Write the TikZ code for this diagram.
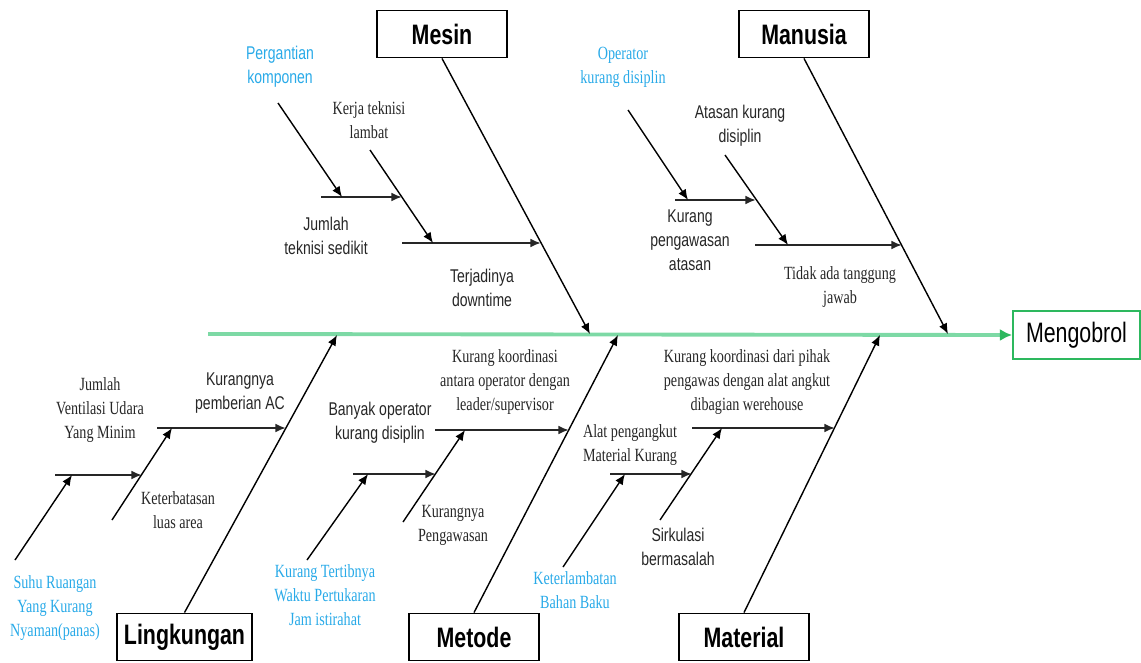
\documentclass[tikz,border=0pt]{standalone}
\usepackage{fontspec}
\setmainfont{Liberation Serif}[FakeStretch=0.76]
\newfontfamily\arialn{Liberation Sans}[FakeStretch=0.76]
\usetikzlibrary{arrows.meta}

\definecolor{biru}{RGB}{41,170,232}
\definecolor{hijaumuda}{RGB}{125,217,165}
\definecolor{hijau}{RGB}{45,184,94}
\definecolor{abu}{RGB}{38,38,38}

\begin{document}
\begin{tikzpicture}[x=0.02cm, y=-0.02cm, >={Latex[length=6pt, width=5pt]},
	kotak/.style={draw, line width=1.1pt, minimum width=2.6cm, minimum height=0.94cm, inner sep=0pt, font=\arialn\bfseries\fontsize{16}{19}\selectfont},
	sans/.style={align=center, text=abu, font=\arialn\fontsize{10.5}{13.6}\selectfont},
	serif/.style={align=center, text=abu, font=\fontsize{10.6}{13.6}\selectfont},
	tulang/.style={->, line width=0.8pt},
	cabang/.style={->, line width=1.3pt, draw=abu},
	ranting/.style={->, line width=0.8pt}]
	
		\useasboundingbox (0, 0) rectangle (1141, 662);
		
		% Kepala dan tulang utama
		
		\draw node[draw=hijau, line width=1.1pt, minimum width=2.54cm, minimum height=0.96cm, inner sep=0pt, font=\arialn\fontsize{16}{19}\selectfont] (akibat) at (1076.5, 335.) {Mengobrol} ;
		
		\coordinate (ekor) at (208., 334.);
		
		\draw[->, line width=2.2pt, draw=hijaumuda, >={Latex[length=7pt, width=7pt, color=hijau]}] (ekor) -- (akibat.west);
		
		% Mesin
		
		\draw node[kotak] (mesin) at (442., 34.) {Mesin} ;
		
		\coordinate (m0) at (590., 334.);
		\coordinate (m1a) at (402., 243.);
		\coordinate (m1b) at (541., 243.);
		\coordinate (m2a) at (321., 197.);
		\coordinate (m2b) at (402., 197.);
		\coordinate (m3a) at (370., 150.);
		\coordinate (m3b) at (433., 243.);
		\coordinate (m4a) at (278., 103.);
		\coordinate (m4b) at (342., 197.);
		
		\draw[tulang] (mesin.south) -- (m0);
		
		\draw[cabang] (m1a) -- (m1b);
		
		\draw[cabang] (m2a) -- (m2b);
		
		\draw[ranting] (m3a) -- (m3b);
		
		\draw[ranting] (m4a) -- (m4b);
		
		\draw node[sans, text=biru] (t1) at (280., 67.) {Pergantian\\komponen} ;
		
		\draw node[serif] (t2) at (369., 120.) {Kerja teknisi\\lambat} ;
		
		\draw node[sans] (t3) at (326., 236.) {Jumlah\\teknisi sedikit} ;
		
		\draw node[sans] (t4) at (482., 288.) {Terjadinya\\downtime} ;
		
		% Manusia
		
		\draw node[kotak] (manusia) at (804., 34.) {Manusia} ;
		
		\coordinate (n0) at (948., 334.);
		\coordinate (n1a) at (755., 245.);
		\coordinate (n1b) at (902., 245.);
		\coordinate (n2a) at (675., 200.);
		\coordinate (n2b) at (756., 200.);
		\coordinate (n3a) at (725., 155.);
		\coordinate (n3b) at (788., 245.);
		\coordinate (n4a) at (628., 110.);
		\coordinate (n4b) at (688., 200.);
		
		\draw[tulang] (manusia.south) -- (n0);
		
		\draw[cabang] (n1a) -- (n1b);
		
		\draw[cabang] (n2a) -- (n2b);
		
		\draw[ranting] (n3a) -- (n3b);
		
		\draw[ranting] (n4a) -- (n4b);
		
		\draw node[serif, text=biru] (t5) at (623., 67.) {Operator\\kurang disiplin} ;
		
		\draw node[sans] (t6) at (740., 126.) {Atasan kurang\\disiplin} ;
		
		\draw node[sans] (t7) at (690., 240.) {Kurang\\pengawasan\\atasan} ;
		
		\draw node[serif] (t8) at (840., 287.) {Tidak ada tanggung\\jawab} ;
		
		% Lingkungan
		
		\draw node[kotak, minimum width=2.7cm] (lingkungan) at (184.5, 637.) {Lingkungan} ;
		
		\coordinate (l0) at (337., 335.);
		\coordinate (l1a) at (157., 428.);
		\coordinate (l1b) at (286., 428.);
		\coordinate (l2a) at (55., 475.);
		\coordinate (l2b) at (142., 475.);
		\coordinate (l3a) at (112., 520.);
		\coordinate (l3b) at (172., 428.);
		\coordinate (l4a) at (15., 560.);
		\coordinate (l4b) at (72., 475.);
		
		\draw[tulang] (lingkungan.north) -- (l0);
		
		\draw[cabang] (l1a) -- (l1b);
		
		\draw[cabang] (l2a) -- (l2b);
		
		\draw[ranting] (l3a) -- (l3b);
		
		\draw[ranting] (l4a) -- (l4b);
		
		\draw node[serif] (t9) at (100., 410.) {Jumlah\\Ventilasi Udara\\Yang Minim} ;
		
		\draw node[sans] (t10) at (240., 393.) {Kurangnya\\pemberian AC} ;
		
		\draw node[serif] (t11) at (178., 510.) {Keterbatasan\\luas area} ;
		
		\draw node[serif, text=biru] (t12) at (55., 608.) {Suhu Ruangan\\Yang Kurang\\Nyaman(panas)} ;
		
		% Metode
		
		\draw node[kotak] (metode) at (474., 637.) {Metode} ;
		
		\coordinate (d0) at (618., 335.);
		\coordinate (d1a) at (435., 430.);
		\coordinate (d1b) at (569., 430.);
		\coordinate (d2a) at (353., 474.);
		\coordinate (d2b) at (436., 474.);
		\coordinate (d3a) at (403., 522.);
		\coordinate (d3b) at (465., 430.);
		\coordinate (d4a) at (307., 560.);
		\coordinate (d4b) at (368., 474.);
		
		\draw[tulang] (metode.north) -- (d0);
		
		\draw[cabang] (d1a) -- (d1b);
		
		\draw[cabang] (d2a) -- (d2b);
		
		\draw[ranting] (d3a) -- (d3b);
		
		\draw[ranting] (d4a) -- (d4b);
		
		\draw node[sans] (t13) at (380., 423.) {Banyak operator\\kurang disiplin} ;
		
		\draw node[serif] (t14) at (505., 382.) {Kurang koordinasi\\antara operator dengan\\leader/supervisor} ;
		
		\draw node[serif] (t15) at (453., 525.) {Kurangnya\\Pengawasan} ;
		
		\draw node[serif, text=biru] (t16) at (325., 595.) {Kurang Tertibnya\\Waktu Pertukaran\\Jam istirahat} ;
		
		% Material
		
		\draw node[kotak] (material) at (744., 637.) {Material} ;
		
		\coordinate (a0) at (880., 335.);
		\coordinate (a1a) at (692., 428.);
		\coordinate (a1b) at (835., 428.);
		\coordinate (a2a) at (610., 474.);
		\coordinate (a2b) at (692., 474.);
		\coordinate (a3a) at (660., 520.);
		\coordinate (a3b) at (722., 428.);
		\coordinate (a4a) at (563., 567.);
		\coordinate (a4b) at (625., 474.);
		
		\draw[tulang] (material.north) -- (a0);
		
		\draw[cabang] (a1a) -- (a1b);
		
		\draw[cabang] (a2a) -- (a2b);
		
		\draw[ranting] (a3a) -- (a3b);
		
		\draw[ranting] (a4a) -- (a4b);
		
		\draw node[serif] (t17) at (747., 382.) {Kurang koordinasi dari pihak\\pengawas dengan alat angkut\\dibagian werehouse} ;
		
		\draw node[serif] (t18) at (630., 445.) {Alat pengangkut\\Material Kurang} ;
		
		\draw node[sans] (t19) at (678., 547.) {Sirkulasi\\bermasalah} ;
		
		\draw node[serif, text=biru] (t20) at (575., 590.) {Keterlambatan\\Bahan Baku} ;
		
	\end{tikzpicture}
\end{document}
